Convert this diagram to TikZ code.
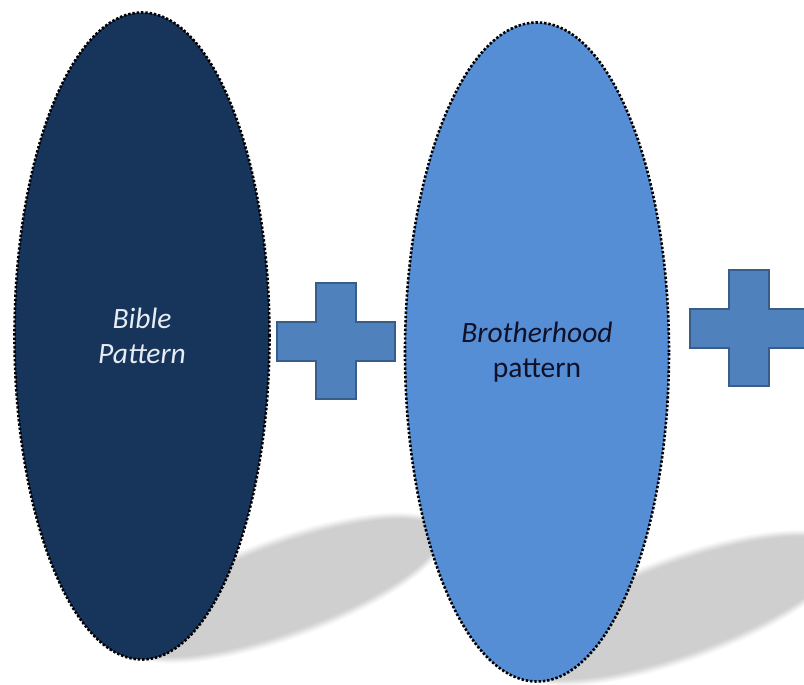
\documentclass[tikz,border=0pt]{standalone}
\usepackage{fontspec}
\setmainfont{Carlito}
\usetikzlibrary{shapes.geometric}
\definecolor{navy}{RGB}{23,52,90}
\definecolor{skyblue}{RGB}{85,142,213}
\definecolor{plusfill}{RGB}{79,129,189}
\definecolor{plusedge}{RGB}{56,93,138}
\definecolor{shadowgray}{RGB}{207,207,207}
\definecolor{paletext}{RGB}{230,236,244}
\definecolor{darktext}{RGB}{16,16,40}

% soft grey cast shadow: centre x, centre y, half-length, half-width, tilt
\newcommand\castshadow[5]{%
  \foreach \d/\p in {6/8,5/18,4/30,3/43,2/56,1/68,0/80,-1/90,-2/100}{%
    \fill[shadowgray!\p!white, rotate around={#5:(#1,#2)}]
      (#1,#2) ellipse [x radius={#3+(\d)}, y radius={#4+(\d)}];
  }}

\tikzset{
  oval/.style={ellipse, draw=black, line width=2.6pt,
    dash pattern=on 2.4pt off 1.9pt, inner sep=0pt, align=center,
    font=\fontsize{29.5}{35}\selectfont},
  plussign/.pic={
    \draw[fill=plusfill, draw=plusedge, line width=2pt, line join=miter]
      (-59,-19.5) -- (-20,-19.5) -- (-20,-58) -- (20,-58) -- (20,-19.5)
      -- (59,-19.5) -- (59,19.5) -- (20,19.5) -- (20,58) -- (-20,58)
      -- (-20,19.5) -- (-59,19.5) -- cycle;
  }
}

\begin{document}
\begin{tikzpicture}[x=1pt,y=-1pt]
\useasboundingbox (0,0) rectangle (804,685);
\clip (0,0) rectangle (804,685);

% shadows lying behind the two ovals
\castshadow{285}{588}{165}{45}{20}
\castshadow{682}{608}{170}{47}{20}

% the two ovals
\node[oval, fill=navy, text=paletext, font=\fontsize{29.5}{35}\selectfont\itshape,
      minimum width=255, minimum height=647] (bible) at (142,336)
      {Bible\\Pattern};
\node[oval, fill=skyblue, text=darktext,
      minimum width=264, minimum height=659] (brotherhood) at (537,352)
      {\textit{Brotherhood}\\pattern};

% plus signs
\pic (plusA) at (336,341) {plussign};
\pic (plusB) at (748.5,328) {plussign};
\end{tikzpicture}
\end{document}
